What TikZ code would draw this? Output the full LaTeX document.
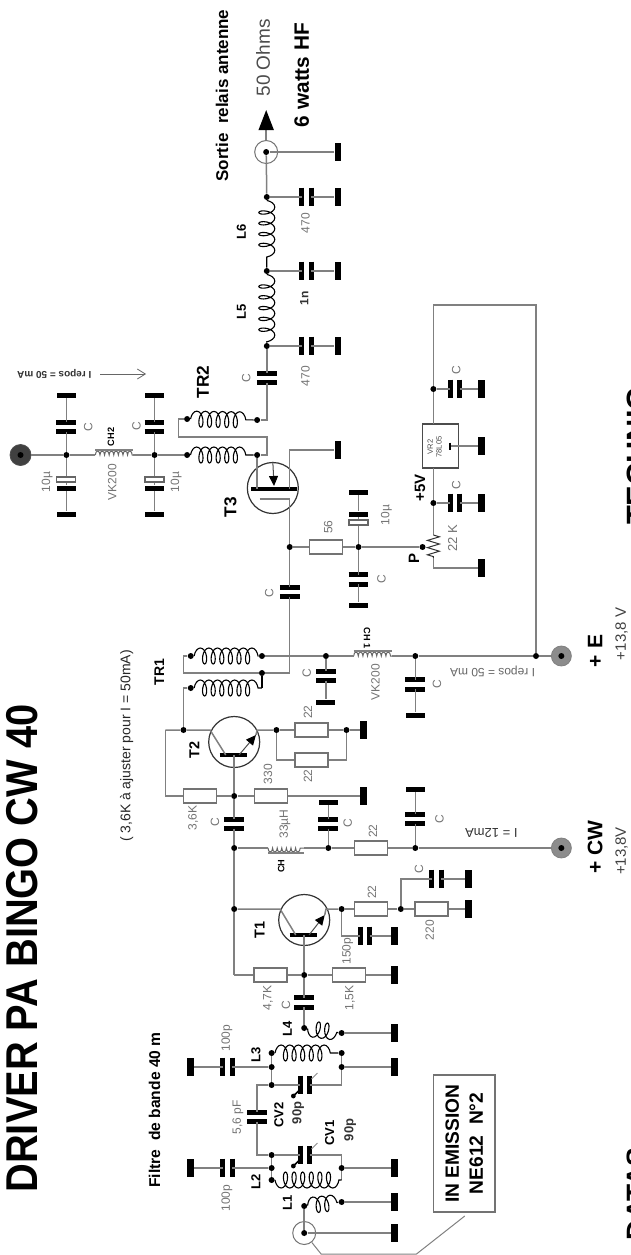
\documentclass[tikz,border=0pt]{standalone}
\usepackage{fontspec}
\setmainfont{Liberation Sans}
\usetikzlibrary{arrows.meta}
\usetikzlibrary{decorations.pathmorphing}

\tikzset{
    wire/.style={draw=black!50, line width=0.75pt},
    junc/.style={circle, fill=black, inner sep=0pt, minimum size=3pt},
    res/.style={rectangle, draw=black!55, fill=white, line width=0.6pt, inner sep=0pt, minimum width=16.5pt, minimum height=7pt},
    gx/.style={rectangle, fill=black, inner sep=0pt, minimum width=3.3pt, minimum height=9pt},
    gy/.style={rectangle, fill=black, inner sep=0pt, minimum width=9.5pt, minimum height=2.5pt},
    hollow/.style={rectangle, draw=black!60, fill=white, line width=0.6pt, inner sep=0pt, minimum width=9.5pt, minimum height=2.5pt},
    plate/.style={draw=black, line width=2.5pt},
    capx/.style={rectangle, inner sep=0pt, minimum width=4.4pt, minimum height=9pt,
        append after command={(\tikzlastnode.north west) edge[plate] (\tikzlastnode.south west)
            (\tikzlastnode.north east) edge[plate] (\tikzlastnode.south east)}},
    capy/.style={rectangle, inner sep=0pt, minimum width=9.5pt, minimum height=4.2pt,
        append after command={(\tikzlastnode.north west) edge[plate] (\tikzlastnode.north east)
            (\tikzlastnode.south west) edge[plate] (\tikzlastnode.south east)}},
    trans/.style={circle, draw=black!80, line width=0.6pt, inner sep=0pt, minimum size=25.5pt},
    pad/.style={circle, draw=black!50, fill=black!45, inner sep=0pt, minimum size=10pt},
    conn/.style={circle, draw=black!55, line width=0.5pt, inner sep=0pt, minimum size=11.5pt},
    coil/.style={draw=black, line width=0.55pt, decorate, decoration={coil, aspect=0.5, amplitude=4pt, segment length=4.3pt}},
    coilv/.style={draw=black, line width=0.55pt, decorate, decoration={coil, aspect=0.5, amplitude=4pt, segment length=5.4pt}},
    coilm/.style={draw=black, line width=0.55pt, decorate, decoration={coil, mirror, aspect=0.5, amplitude=4pt, segment length=4.3pt}},
    choke/.style={draw=black!60, line width=0.5pt, decorate, decoration={bumps, amplitude=2pt, segment length=4.6pt}},
    chokem/.style={draw=black!60, line width=0.5pt, decorate, decoration={bumps, mirror, amplitude=2pt, segment length=4.6pt}},
    tipfill/.style={-{Triangle[length=5pt,width=4.5pt,fill=black,color=black]}},
    val/.style={rotate=90, text=black!55, inner sep=0pt, font=\fontsize{6}{7}\selectfont},
    lab/.style={rotate=90, inner sep=0pt, font=\bfseries\fontsize{6.5}{8}\selectfont},
    big/.style={rotate=90, inner sep=0pt, font=\bfseries\fontsize{8.6}{10}\selectfont},
    small/.style={rotate=90, inner sep=0pt, font=\bfseries\fontsize{4.6}{5}\selectfont}
}

\begin{document}
\begin{tikzpicture}[x=0.6036pt, y=-0.5pt]
    \useasboundingbox (0,0) rectangle (522.67,1255);

    % Junctions
    \foreach \n/\x/\y in {jo1/221/197, jo2/221/271, jo3/221/346, dt1/155/419, dt2/213/420, dt3/155/455, dt4/213/455,
        ja/55/455, jb/128/455, js/240/547, jp/297/547, jw/350/547, jv/359/389, jr/359/503,
        jt1/270/656, jt2/344/656, jt3/444/656, da/158/656, db/217/656, dc/217/673, dd/158/688,
        jc/152/730, je/229/730, jf/287/730, jd/194/796, jk/194/848, jm/272/848, jn/344/848,
        jq/194/909, jh/283/909, ji/332/909, jy/252/975,
        d4a/252/1028, d4b/283/1033, d3a/225/1053, d3b/283/1053, j3a/225/1067, j3b/283/1067, j3c/225/1085,
        j2c/225/1155, j2a/225/1168, j2b/283/1168, d2a/225/1180, d1b/283/1202, d1a/252/1206}
        \node[junc] (\n) at (\x,\y) {};

    % Corners
    \foreach \n/\x/\y in {c1/221/420, c2/148/437, c3/221/455, c4/240/673, c5/152/673, c6/444/305, c7/359/305,
        c8/137/730, c9/137/796, c10/194/975, c11/213/1085, c12/213/1155, d2b/283/1180, de/217/688}
        \coordinate (\n) at (\x,\y);

    % Output
    \node[conn] (conout) at (220.5,152) {};
    \node[junc] (dout) at (220.5,152) {};
    \coordinate (tip) at (220.5,110);
    \node[gx] (gout) at (280,152) {};
    \draw[wire] (dout) -- (gout);
    \draw[wire] (jo1) -- (dout);
    \draw[wire, -{Triangle[length=10pt,width=7.5pt,fill=black,color=black]}] (conout) -- (tip);
    \foreach \i/\y in {1/197, 2/271, 3/346} {
        \node[capx] (co\i) at (254,\y) {};
        \node[gx] (go\i) at (280,\y) {};
        \draw[wire] (jo\i) -- (co\i) -- (go\i);
    }
    \draw[coilv] (jo1) -- (jo2);
    \draw[coilv] (jo2) -- (jo3);
    \node[capy] (cs1) at (221,378) {};
    \draw[wire] (jo3) -- (cs1) -- (c1) -- (dt2);

    % TR2 and T3
    \draw[coil] (dt1) -- (dt2);
    \draw[coil] (dt3) -- (dt4);
    \draw[wire] (dt1) -| (c2) -| (c3) -- (dt4);
    \node[pad, fill=black!75, draw=black!70, minimum size=10.5pt] (padtop) at (17,455) {};
    \fill[black] (padtop) circle (1.5pt);
    \coordinate (ch2a) at (79,455);
    \coordinate (ch2b) at (110,455);
    \draw[choke] (ch2a) -- (ch2b);
    \draw[wire] ([yshift=2.5pt]ch2a) -- ([yshift=2.5pt]ch2b);
    \draw[wire] (padtop) -- (ja) -- (ch2a);
    \draw[wire] (ch2b) -- (jb) -- (dt3);
    \foreach \n/\x in {a/55, b/128} {
        \node[capy] (cb\n) at (\x,427) {};
        \node[gy] (gb\n) at (\x,395) {};
        \node[hollow] (eh\n) at (\x,479.5) {};
        \node[gy] (ep\n) at (\x,488) {};
        \node[gy] (gc\n) at (\x,514) {};
        \draw[wire] (j\n) -- (cb\n) -- (gb\n);
        \draw[wire] (j\n) -- (eh\n) -- (ep\n) -- (gc\n);
    }
    \node[trans] (t3) at (226,488) {};
    \draw[line width=2.2pt] (208,489) -- (246,489);
    \node[gx] (gt3) at (280,450) {};
    \coordinate (s3) at (240,489);
    \coordinate (s4) at (240,450);
    \coordinate (d3) at (213,489);
    \coordinate (g3) at (215,499);
    \draw[wire] (dt4) -- (d3);
    \draw[wire] (s3) -- (s4) -- (gt3);
    \draw[wire] (g3) -| (js);
    \draw[draw=black!70, line width=0.5pt, tipfill] (t3.north) -- (227,486);

    % Bias of T3
    \node[res] (r56) at (270,547) {};
    \node[capy] (cp2) at (297,579.5) {};
    \node[gy] (gp2) at (297,605) {};
    \node[hollow] (ehp) at (297,522.5) {};
    \node[gy] (epp) at (297,514) {};
    \node[gy] (gp1) at (297,492) {};
    \node[capy] (cs2) at (240,592) {};
    \draw[wire] (js) -- (r56) -- (jp) -- (jw);
    \draw[wire] (jp) -- (cp2) -- (gp2);
    \draw[wire] (jp) -- (ehp) -- (epp) -- (gp1);
    \draw[wire] (js) -- (cs2) -- (c4) -- (dc) -- (c5) |- (da);

    % Regulator
    \node[rectangle, draw=black!70, line width=0.6pt, inner sep=0pt, minimum width=18pt, minimum height=22pt] (vr2) at (365,446) {};
    \node[small, font=\fontsize{3.8}{4.4}\selectfont, align=center, text=black!70] (vrt) at (360,447) {VR2\\78L05};
    \coordinate (vrg) at (373,446);
    \node[gx] (gvr) at (399,446) {};
    \draw[wire] (vrg) -- (gvr);
    \draw[line width=0.9pt] (373,442.5) -- (373,449.5);
    \foreach \i/\n/\y in {1/jv/389, 2/jr/503} {
        \node[capx] (cv\i) at (377,\y) {};
        \node[gx] (gv\i) at (399,\y) {};
        \draw[wire] (\n) -- (cv\i) -- (gv\i);
    }
    \coordinate (vra) at (359,424);
    \coordinate (vrb) at (359,468);
    \coordinate (za) at (359,535);
    \coordinate (zb) at (359,558);
    \coordinate (zc) at (359,568);
    \node[gx] (gz) at (399,568) {};
    \draw[wire] (jt3) -- (c6) -- (c7) -- (jv) -- (vra);
    \draw[wire] (vrb) -- (jr) -- (za);
    \draw[line width=0.5pt, draw=black!80, decorate, decoration={zigzag, amplitude=3pt, segment length=3.6pt}] (za) -- (zb);
    \draw[wire] (zb) -- (zc) -- (gz);

    % TR1 and supply
    \draw[coil] (da) -- (db);
    \draw[coil] (dd) -- (de);
    \draw[line width=0.55pt] (de) -- (dc);
    \draw[wire] (dd) -| (jc);
    \node[pad] (pade) at (465,656) {};
    \fill[black] (pade) circle (1.5pt);
    \coordinate (ch1a) at (293,656);
    \coordinate (ch1b) at (325,656);
    \draw[choke] (ch1a) -- (ch1b);
    \draw[wire] ([yshift=2.5pt]ch1a) -- ([yshift=2.5pt]ch1b);
    \draw[wire] (db) -- (jt1) -- (ch1a);
    \draw[wire] (ch1b) -- (jt2) -- (jt3) -- (pade);
    \node[capy] (ct1) at (270,676) {};
    \node[gy] (gt1) at (270,702) {};
    \node[capy] (ct2) at (344,684.5) {};
    \node[gy] (gt2) at (344,715) {};
    \draw[wire] (jt1) -- (ct1) -- (gt1);
    \draw[wire] (jt2) -- (ct2) -- (gt2);

    % T2
    \node[trans] (t2) at (194,742) {};
    \draw[line width=2.2pt] (182,755) -- (205,755);
    \coordinate (c2a) at (174,730);
    \coordinate (c2b) at (187,755);
    \coordinate (e2a) at (198,755);
    \coordinate (e2b) at (212,735);
    \coordinate (e2c) at (213,730);
    \coordinate (b2) at (194,755);
    \draw[wire] (c8) -- (jc) -- (c2a) -- (c2b);
    \draw[draw=black!70, line width=0.5pt, tipfill] (e2a) -- (e2b);
    \draw[wire] (e2b) -- (e2c) -- (je);
    \node[res] (r22a) at (258,730) {};
    \node[res] (r22b) at (258,760) {};
    \node[gx] (g22) at (301,730) {};
    \draw[wire] (je) -- (r22a) -- (jf) -- (g22);
    \draw[wire] (je) |- (r22b) -| (jf);
    \node[res] (r36) at (165.5,796) {};
    \node[res] (r330) at (224.5,796) {};
    \node[gx] (g330) at (301,796) {};
    \draw[wire] (c8) -- (c9) -- (r36) -- (jd) -- (r330) -- (g330);
    \node[capy] (cs3) at (194,824) {};
    \draw[wire] (b2) -- (jd) -- (cs3) -- (jk) -- (jq) -- (c10);

    % Supply of T1
    \coordinate (cha) at (222,848);
    \coordinate (chb) at (252,848);
    \draw[chokem] (cha) -- (chb);
    \draw[wire] ([yshift=-2.5pt]cha) -- ([yshift=-2.5pt]chb);
    \node[res] (r22c) at (307.5,848) {};
    \node[pad] (padcw) at (465,848) {};
    \fill[black] (padcw) circle (1.5pt);
    \draw[wire] (jk) -- (cha);
    \draw[wire] (chb) -- (jm) -- (r22c) -- (jn) -- (padcw);
    \node[capy] (cm) at (272,824) {};
    \node[gy] (gm) at (272,802) {};
    \node[capy] (cn) at (344,819) {};
    \node[gy] (gn) at (344,789) {};
    \draw[wire] (jm) -- (cm) -- (gm);
    \draw[wire] (jn) -- (cn) -- (gn);

    % T1
    \node[trans] (t1) at (252,920) {};
    \draw[line width=2.2pt] (240,935) -- (263,935);
    \coordinate (c1a) at (232,909);
    \coordinate (c1b) at (245,935);
    \coordinate (e1a) at (256,935);
    \coordinate (e1b) at (269,915);
    \coordinate (e1c) at (270,909);
    \coordinate (b1) at (252,935);
    \draw[wire] (jq) -- (c1a) -- (c1b);
    \draw[draw=black!70, line width=0.5pt, tipfill] (e1a) -- (e1b);
    \draw[wire] (e1b) -- (e1c) -- (jh);
    \draw[wire] (b1) -- (jy);
    \node[res] (r22d) at (307.5,909) {};
    \node[res] (r220) at (357.5,909) {};
    \node[gx] (g220) at (388,909) {};
    \draw[wire] (jh) -- (r22d) -- (ji) -- (r220) -- (g220);
    \node[capx] (cc1) at (361.5,879) {};
    \node[gx] (gc1) at (388,879) {};
    \draw[wire] (ji) |- (cc1) -- (gc1);
    \node[capx] (c150) at (302.5,936) {};
    \node[gx] (g150) at (327,936) {};
    \draw[wire] (jh) |- (c150) -- (g150);
    \node[res] (r47) at (224,975) {};
    \node[res] (r15) at (289,975) {};
    \node[gx] (g15) at (327,975) {};
    \draw[wire] (c10) -- (r47) -- (jy) -- (r15) -- (g15);
    \node[capy] (cs4) at (252,1002.5) {};
    \draw[wire] (jy) -- (cs4) -- (d4a);

    % Filter
    \draw[coilm] (d4a) -- (d4b);
    \node[gx] (g4) at (327,1033) {};
    \draw[wire] (d4b) -- (g4);
    \draw[coil] (d3a) -- (d3b);
    \draw[wire] (d3a) -- (j3a) -- (j3c);
    \draw[wire] (d3b) -- (j3b);
    \node[capx] (c100a) at (188.5,1067) {};
    \node[gx] (g100a) at (158,1067) {};
    \node[gx] (g3b) at (327,1067) {};
    \draw[wire] (j3a) -- (c100a) -- (g100a);
    \draw[wire] (j3b) -- (g3b);
    \node[capx] (cv2) at (252.5,1085) {};
    \node[capy] (c56) at (213,1117) {};
    \node[capx] (cv1) at (252.5,1155) {};
    \draw[wire] (j3c) -- (cv2) -| (j3b);
    \draw[wire] (j3c) -- (c11) -- (c56) -- (c12) -- (j2c) -- (cv1) -| (j2b);
    \foreach \y in {1085, 1155} {
        \draw[draw=black!45, line width=0.5pt] (263,\y-12) -- (258,\y-6);
        \draw[line width=0.8pt] (243,\y+11) -- (248,\y+5);
        \fill[black] (243,\y+11) circle (1.2pt);
    }
    \draw[wire] (j2c) -- (j2a) -- (d2a);
    \draw[wire] (j2b) -- (d2b);
    \draw[coilm] (d2a) -- (d2b);
    \node[capx] (c100b) at (188.5,1168) {};
    \node[gx] (g100b) at (158,1168) {};
    \node[gx] (g2b) at (327,1168) {};
    \draw[wire] (j2a) -- (c100b) -- (g100b);
    \draw[wire] (j2b) -- (g2b);
    \draw[coil] (d1a) -- (d1b);
    \node[gx] (g1b) at (327,1202) {};
    \draw[wire] (d1b) -- (g1b);

    % Input
    \node[conn] (conin) at (252,1233) {};
    \node[junc] (din) at (252,1233) {};
    \node[gx] (gin) at (327,1233) {};
    \draw[wire] (d1a) -- (din) -- (gin);
    \node[rectangle, draw=black!55, line width=0.7pt, rotate=90, inner sep=0pt, minimum width=68.5pt, minimum height=30.8pt,
        align=center, font=\bfseries\fontsize{9.6}{12}\selectfont] (emit) at (384.5,1143.5) {IN EMISSION\\NE612\ \ N°2};
    \coordinate (la) at (266,1254);
    \coordinate (lb) at (345,1254);
    \coordinate (lc) at (385,1216);
    \draw[wire, line width=0.5pt] (conin) -- (la) -- (lb) -- (lc);

    % Texts
    \node[rotate=90, inner sep=0pt, yscale=1.12, font=\bfseries\fontsize{19.9}{22}\selectfont] (title) at (18,948.5) {DRIVER PA BINGO CW 40};
    \node[rotate=90, anchor=north, inner sep=0pt, font=\bfseries\fontsize{15.4}{18}\selectfont] (tech) at (519.3,456.5) {TECHNIC};
    \node[rotate=90, anchor=north, inner sep=0pt, font=\bfseries\fontsize{14}{18}\selectfont] (datas) at (519.3,1194) {DATAS};

    \node[rotate=90, inner sep=0pt, font=\bfseries\fontsize{8.5}{10}\selectfont] (sortie) at (184,95.5) {Sortie\ \ relais antenne};
    \node[rotate=90, inner sep=0pt, text=black!70, font=\fontsize{9.5}{11}\selectfont] (ohms) at (218,58) {50 Ohms};
    \node[rotate=90, inner sep=0pt, font=\bfseries\fontsize{10.4}{12}\selectfont] (watts) at (250,75) {6 watts HF};
    \node[lab] (ll6) at (200,232) {L6};
    \node[lab] (ll5) at (200,312) {L5};
    \node[val] (v470a) at (253,223) {470};
    \node[lab, font=\bfseries\fontsize{6}{7}\selectfont, text=black!80] (v1n) at (252,298) {1n};
    \node[val] (v470b) at (253,376) {470};
    \node[val] (vc1) at (204,378) {C};

    \node[inner sep=0pt, rotate=180, font=\bfseries\fontsize{5}{6}\selectfont, text=black!80] (irepa) at (45,374) {I repos = 50 mA};
    \coordinate (ia) at (83,374);
    \coordinate (ib) at (121,374);
    \draw[draw=black!60, line width=0.4pt, -{Straight Barb[length=4pt,width=5pt]}] (ia) -- (ib);
    \node[big] (ltr2) at (168,382) {TR2};
    \node[val] (vca) at (73,427) {C};
    \node[val] (vcb) at (113,426) {C};
    \node[val] (v10a) at (39,482) {10µ};
    \node[val] (v10b) at (146,482) {10µ};
    \node[small] (lch2) at (92,437) {CH2};
    \node[val] (vk2) at (93,482) {VK200};

    \node[big] (lt3) at (191,507) {T3};
    \node[val] (v56) at (272,527) {56};
    \node[val] (v10c) at (320,515) {10µ};
    \node[val] (vcc) at (316,579) {C};
    \node[val] (vcd) at (223,593) {C};
    \node[val] (vce) at (378,370) {C};
    \node[val] (vcf) at (378,485) {C};
    \node[lab, font=\bfseries\fontsize{7.5}{9}\selectfont] (l5v) at (348,488) {+5V};
    \node[val, font=\fontsize{6.5}{8}\selectfont] (v22k) at (375,538) {22 K};
    \node[lab, font=\bfseries\fontsize{7.5}{9}\selectfont] (lp) at (343,558) {P};

    \node[inner sep=0pt, rotate=-90, font=\bfseries\fontsize{4.6}{5}\selectfont] (lch1t) at (304,638) {CH 1};
    \node[val] (vk1) at (311,682) {VK200};
    \node[val] (vcg) at (254,673) {C};
    \node[val] (vch) at (362,684) {C};
    \node[inner sep=0pt, rotate=180, text=black!60, font=\fontsize{6}{7}\selectfont] (irepb) at (408,671) {I repos = 50 mA};
    \node[lab, font=\bfseries\fontsize{7}{8}\selectfont] (ltr1) at (132,672) {TR1};
    \node[lab, font=\bfseries\fontsize{7.2}{8}\selectfont] (lt2) at (161,750) {T2};
    \node[rotate=90, inner sep=0pt, text=black!85, font=\fontsize{7}{8}\selectfont] (ajust) at (105,746) {( 3,6K à ajuster pour I = 50mA)};
    \node[val] (v22a) at (255,712) {22};
    \node[val] (v22b) at (255,776) {22};
    \node[val] (v36) at (160,818) {3,6K};
    \node[val] (v330) at (222,774) {330};
    \node[val] (vci) at (178,822) {C};
    \node[val] (v33) at (236,824) {33µH};
    \node[small] (lch) at (233,866) {CH};
    \node[val] (vcj) at (288,823) {C};
    \node[val] (vck) at (364,819) {C};
    \node[val] (v22c) at (309,831) {22};
    \node[inner sep=0pt, rotate=180, text=black!80, font=\fontsize{6.5}{8}\selectfont] (i12) at (407,833) {I = 12mA};

    \node[lab, font=\bfseries\fontsize{10.5}{12}\selectfont] (le) at (493,651) {+ E};
    \node[rotate=90, inner sep=0pt, text=black!75, font=\fontsize{7.5}{9}\selectfont] (v138a) at (515,634) {+13,8 V};
    \node[lab, font=\bfseries\fontsize{10.5}{12}\selectfont] (lcw) at (493,847) {+ CW};
    \node[rotate=90, inner sep=0pt, text=black!75, font=\fontsize{7.5}{9}\selectfont] (v138b) at (515,851) {+13,8V};

    \node[lab, font=\bfseries\fontsize{7.2}{8}\selectfont] (lt1) at (215,930) {T1};
    \node[val] (v22d) at (308,892) {22};
    \node[val] (v220) at (356,930) {220};
    \node[val] (vcl) at (347,869) {C};
    \node[val] (v150) at (288,951) {150p};
    \node[val] (v47) at (222,998) {4,7K};
    \node[val] (v15) at (290,998) {1,5K};
    \node[val] (vcm) at (237,1005) {C};
    \node[lab] (ll4) at (238,1029) {L4};
    \node[lab] (ll3) at (212,1055) {L3};
    \node[lab] (ll2) at (212,1182) {L2};
    \node[lab] (ll1) at (238,1203) {L1};
    \node[val] (v100a) at (188,1038) {100p};
    \node[val] (v100b) at (188,1198) {100p};
    \node[val] (v56p) at (197,1117) {5,6 pF};
    \node[lab] (lcv2) at (231,1115) {CV2};
    \node[lab, text=black!80] (v90a) at (247,1113) {90p};
    \node[lab] (lcv1) at (273,1133) {CV1};
    \node[lab, text=black!80] (v90b) at (290,1130) {90p};
    \node[rotate=90, inner sep=0pt, font=\bfseries\fontsize{7.8}{9}\selectfont] (filtre) at (128,1110) {Filtre\ \ de bande 40 m};
\end{tikzpicture}
\end{document}
